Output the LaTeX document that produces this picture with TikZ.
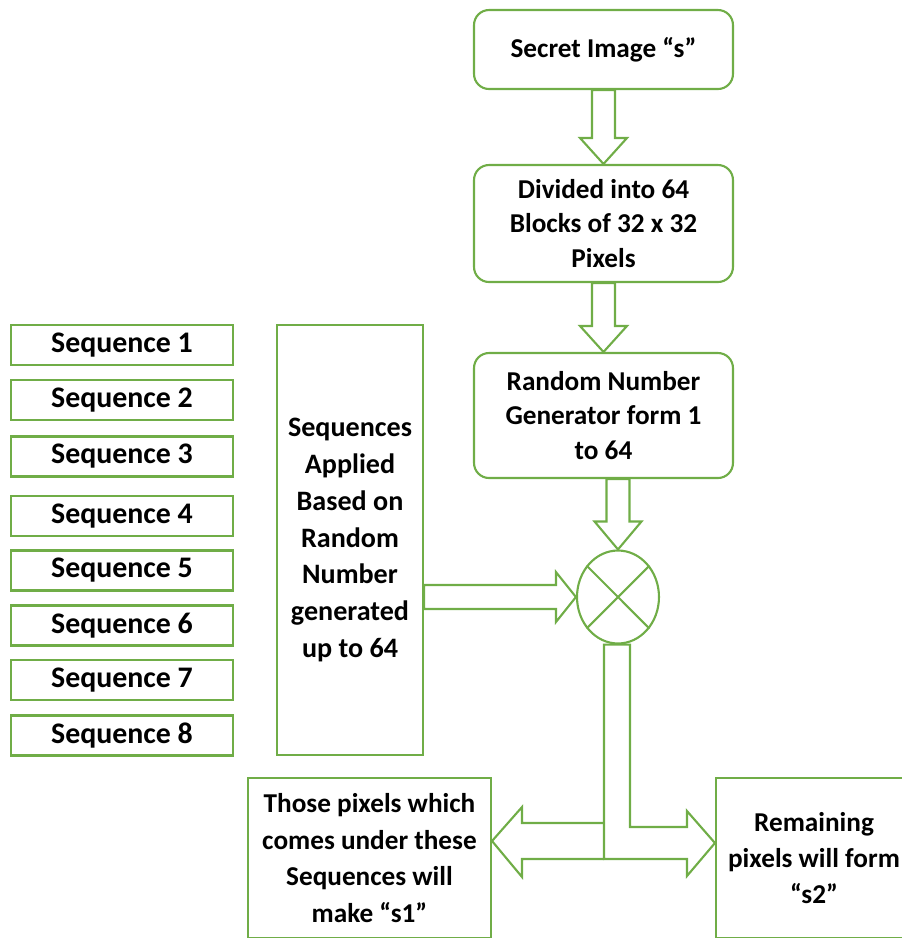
\documentclass[tikz,border=0pt]{standalone}
\usepackage{fontspec}
\setmainfont{Carlito}
\usetikzlibrary{shapes.geometric,calc}
\definecolor{grn}{RGB}{112,173,71}
\begin{document}
\begin{tikzpicture}[x=0.02cm,y=-0.02cm,
		box/.style={draw=grn,line width=1.2pt,align=center,inner sep=2pt,font=\fontsize{15.5}{19.5}\selectfont\bfseries},
		rbox/.style={box,rounded corners=0.3cm},
		seqbox/.style={draw=grn,line width=1.2pt,minimum width=4.44cm,minimum height=0.8cm,font=\fontsize{17}{20}\selectfont\bfseries},
		blk/.style={draw=grn,line width=1.2pt,line join=miter}]
				\useasboundingbox (0,0) rectangle (902,938);
				\pgfmathsetmacro\SW{11.5}
				\pgfmathsetmacro\HW{23.5}
				\pgfmathsetmacro\HL{26}

				\node[rbox,minimum width=5.18cm,minimum height=1.58cm] (secret) at (603.5,49.5) {Secret Image “s”};
				\node[rbox,minimum width=5.18cm,minimum height=2.34cm] (divided) at (603.5,223.5) {Divided into 64\\Blocks of 32 x 32\\Pixels};
				\node[rbox,minimum width=5.18cm,minimum height=2.5cm] (rng) at (603.5,415.5) {Random Number\\Generator form 1\\to 64};
				\node[ellipse,draw=grn,line width=1.2pt,minimum width=1.64cm,minimum height=1.86cm,inner sep=0pt] (circ) at (618,597) {};
				\draw[grn,line width=1.2pt] (circ.45) -- (circ.225) (circ.135) -- (circ.315);
				\node[box,minimum width=2.92cm,minimum height=8.6cm,font=\fontsize{16}{21}\selectfont\bfseries] (applied) at (350,540) {Sequences\\Applied\\Based on\\Random\\Number\\generated\\up to 64};
				\foreach \i/\y in {1/345,2/400,3/456.5,4/516,5/570.5,6/625.5,7/680,8/735.5}
					\node[seqbox] (seq\i) at (122,\y) {Sequence \i};
				\node[box,minimum width=4.86cm,minimum height=3.2cm,font=\fontsize{15.5}{20.8}\selectfont\bfseries] (sone) at (369.5,858) {Those pixels which\\comes under these\\Sequences will\\make “s1”};
				\node[box,minimum width=3.92cm,minimum height=3.2cm,font=\fontsize{15.5}{20.3}\selectfont\bfseries] (stwo) at (814,858) {Remaining\\pixels will form\\“s2”};

				% block arrows down the right column
				\draw[blk] ($(secret.south)+(-\SW,0)$) -- ($(divided.north)+(-\SW,-\HL)$) -- ($(divided.north)+(-\HW,-\HL)$) -- (divided.north)
					-- ($(divided.north)+(\HW,-\HL)$) -- ($(divided.north)+(\SW,-\HL)$) -- ($(secret.south)+(\SW,0)$) -- cycle;
				\draw[blk] ($(divided.south)+(-\SW,0)$) -- ($(rng.north)+(-\SW,-\HL)$) -- ($(rng.north)+(-\HW,-\HL)$) -- (rng.north)
					-- ($(rng.north)+(\HW,-\HL)$) -- ($(rng.north)+(\SW,-\HL)$) -- ($(divided.south)+(\SW,0)$) -- cycle;
				\coordinate (rngout) at (rng.south -| circ.north);
				\draw[blk] ($(rngout)+(-\SW,0)$) -- ($(circ.north)+(-\SW,-28)$) -- ($(circ.north)+(-\HW,-28)$) -- (circ.north)
					-- ($(circ.north)+(\HW,-28)$) -- ($(circ.north)+(\SW,-28)$) -- ($(rngout)+(\SW,0)$) -- cycle;

				% block arrow into the multiplier
				\coordinate (appout) at (applied.east |- circ.west);
				\draw[blk] ($(appout)+(0,-12)$) -- ($(circ.west)+(-20,-12)$) -- ($(circ.west)+(-20,-25)$) -- (circ.west)
					-- ($(circ.west)+(-20,25)$) -- ($(circ.west)+(-20,12)$) -- ($(appout)+(0,12)$) -- cycle;

				% split into s1 and s2
				\coordinate (tipl) at ($(sone.east)+(0,-17)$);
				\coordinate (tipr) at ($(stwo.west)+(0,-15)$);
				\draw[blk] ($(circ.south)+(-14,0)$) -- ($(circ.south |- tipr)+(-14,16)$) -- ($(tipr)+(-28,16)$) -- ($(tipr)+(-28,33)$) -- (tipr)
					-- ($(tipr)+(-28,-32)$) -- ($(tipr)+(-28,-16)$) -- ($(circ.south |- tipr)+(12,-16)$) -- ($(circ.south)+(12,0)$) -- cycle;
				\draw[blk] ($(circ.south |- tipl)+(-14,-18)$) -- ($(tipl)+(30,-18)$) -- ($(tipl)+(30,-34)$) -- (tipl)
					-- ($(tipl)+(30,36)$) -- ($(tipl)+(30,18)$) -- ($(circ.south |- tipl)+(-14,18)$);
			\end{tikzpicture}
\end{document}
